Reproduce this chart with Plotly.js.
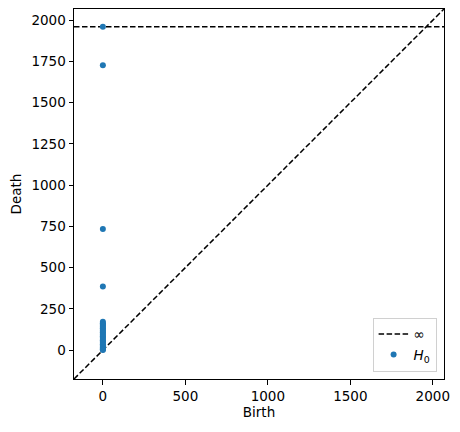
<!DOCTYPE html>
<html>
<head>
<meta charset="utf-8">
<script src="https://cdn.plot.ly/plotly-3.0.1.min.js"></script>
<style>body{margin:0;background:#fff}</style>
</head>
<body>
<div id="plot" style="width:460px;height:432px"></div>
<script>
// data
var births = [0, 0, 0, 0, 0, 0, 0, 0, 0, 0, 0, 0, 0, 0, 0, 0, 0, 0, 0, 0, 0, 0, 0, 0, 0, 0, 0, 0];
var deaths = [1960, 1727, 735, 385, 172, 163, 155, 148, 140, 132, 124, 116, 108, 100, 92, 84, 76, 68, 60, 52, 44, 36, 28, 20, 14, 8, 4, 1];
var infValue = [1960, 1960];
var diagEnds = [-175, 2068];
var axisRange = [-175, 2068];

var font = {family: 'DejaVu Sans', size: 13.5, color: '#000'};

var traces = [
    {
        x: diagEnds,
        y: diagEnds,
        mode: 'lines',
        line: {color: '#000', width: 1.5, dash: '5.5px,2.5px'},
        showlegend: false,
        hoverinfo: 'skip'
    },
    {
        x: diagEnds,
        y: infValue,
        mode: 'lines',
        name: '∞',
        line: {color: '#000', width: 1.5, dash: '5.5px,2.5px'}
    },
    {
        x: births,
        y: deaths,
        mode: 'markers',
        name: '<i>H</i><sub>0</sub>',
        marker: {color: '#1f77b4', size: 6}
    }
];

var axisStyle = {
    range: axisRange,
    showgrid: false,
    zeroline: false,
    showline: true,
    mirror: true,
    linecolor: '#000',
    linewidth: 1,
    ticks: 'outside',
    ticklen: 4.5,
    tickcolor: '#000',
    tickvals: [0, 500, 1000, 1500, 2000],
    tickfont: font
};

var layout = {
    width: 460,
    height: 432,
    margin: {l: 74, r: 16, t: 9, b: 53},
    paper_bgcolor: 'white',
    plot_bgcolor: 'white',
    font: font,
    xaxis: Object.assign({}, axisStyle, {
        title: {text: 'Birth', font: font, standoff: 3}
    }),
    yaxis: Object.assign({}, axisStyle, {
        tickvals: [0, 250, 500, 750, 1000, 1250, 1500, 1750, 2000],
        title: {text: 'Death', font: font, standoff: 6}
    }),
    legend: {
        x: 0.98, y: 0.02,
        xanchor: 'right', yanchor: 'bottom',
        bordercolor: '#d0d0d0', borderwidth: 1,
        bgcolor: 'rgba(255,255,255,0.8)',
        font: font,
        itemwidth: 30
    }
};

Plotly.newPlot('plot', traces, layout, {displayModeBar: false});
</script>
</body>
</html>
